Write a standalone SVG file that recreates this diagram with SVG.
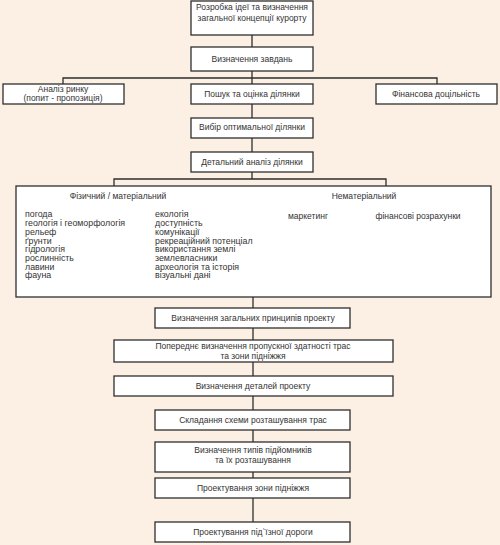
<svg xmlns="http://www.w3.org/2000/svg" width="500" height="545" viewBox="0 0 500 545">
<style>
.b{fill:#fff;stroke:#2e2e2e;stroke-width:1.3}
.c{fill:none;stroke:#2e2e2e;stroke-width:1.3}
text{font-family:"Liberation Sans",Arial,sans-serif;font-size:8.5px;fill:#333}
.l{font-size:8.8px}
.m{text-anchor:middle}
</style>
<rect width="500" height="545" fill="#fcefe3"/>
<g id="connectors" class="c">
<path d="M252 35V47M252 71V84M63 84V78H437V84M252 104V118M252 138V152M252 172V179M114 186V179H386V186M253 297V308M253 328V340M253 362V376M253 396V410M253 430V442M253 472V478M253 498V522"/>
</g>
<g id="n1"><rect class="b" x="191" y="1" width="122" height="34"/><text class="m" x="252" y="10">Розробка ідеї та визначення</text><text class="m" x="252" y="21">загальної концепції курорту</text></g>
<g id="n2"><rect class="b" x="191" y="47" width="122" height="24"/><text class="m" x="252" y="62">Визначення завдань</text></g>
<g id="n3"><rect class="b" x="3" y="84" width="121" height="20"/><text class="m" x="63" y="92">Аналіз ринку</text><text class="m" x="63" y="101">(попит - пропозиція)</text></g>
<g id="n4"><rect class="b" x="191" y="84" width="122" height="20"/><text class="m" x="252" y="97">Пошук та оцінка ділянки</text></g>
<g id="n5"><rect class="b" x="376" y="84" width="121" height="20"/><text class="m" x="436" y="97">Фінансова доцільність</text></g>
<g id="n6"><rect class="b" x="191" y="118" width="122" height="20"/><text class="m" x="252" y="130">Вибір оптимальної ділянки</text></g>
<g id="n7"><rect class="b" x="191" y="152" width="122" height="20"/><text class="m" x="252" y="165">Детальний аналіз ділянки</text></g>
<g id="n8"><rect class="b" x="16" y="186" width="475" height="111"/>
<text class="m" x="118" y="199">Фізичний / матеріальний</text>
<text class="l" x="25" y="217">погода</text>
<text class="l" x="25" y="226">геологія і геоморфологія</text>
<text class="l" x="25" y="235">рельеф</text>
<text class="l" x="25" y="243.5">ґрунти</text>
<text class="l" x="25" y="252">гідрологія</text>
<text class="l" x="25" y="261">рослинність</text>
<text class="l" x="25" y="269.5">лавини</text>
<text class="l" x="25" y="278">фауна</text>
<text class="l" x="155" y="217">екологія</text>
<text class="l" x="155" y="226">доступність</text>
<text class="l" x="155" y="235">комунікації</text>
<text class="l" x="155" y="243.5">рекреаційний потенціал</text>
<text class="l" x="155" y="252">використання землі</text>
<text class="l" x="155" y="261">землевласники</text>
<text class="l" x="155" y="269.5">археологія та історія</text>
<text class="l" x="155" y="278">візуальні дані</text>
<text class="m" x="364" y="199">Нематеріальний</text>
<text class="m" x="308" y="219">маркетинг</text>
<text class="m" x="418" y="219">фінансові розрахунки</text>
</g>
<g id="n9"><rect class="b" x="155" y="308" width="195" height="20"/><text class="m" x="253" y="321">Визначення загальних принципів проекту</text></g>
<g id="n10"><rect class="b" x="114" y="340" width="279" height="22"/><text class="m" x="253" y="349">Попереднє визначення пропускної здатності трас</text><text class="m" x="253" y="359">та зони підніжжя</text></g>
<g id="n11"><rect class="b" x="114" y="376" width="279" height="20"/><text class="m" x="253" y="389">Визначення деталей проекту</text></g>
<g id="n12"><rect class="b" x="155" y="410" width="195" height="20"/><text class="m" x="253" y="423">Складання схеми розташування трас</text></g>
<g id="n13"><rect class="b" x="155" y="442" width="195" height="30"/><text class="m" x="253" y="453">Визначення типів підйомників</text><text class="m" x="253" y="463">та їх розташування</text></g>
<g id="n14"><rect class="b" x="155" y="478" width="195" height="20"/><text class="m" x="253" y="491">Проектування зони підніжжя</text></g>
<g id="n15"><rect class="b" x="155" y="522" width="195" height="20"/><text class="m" x="253" y="535">Проектування під`їзної дороги</text></g>
</svg>
